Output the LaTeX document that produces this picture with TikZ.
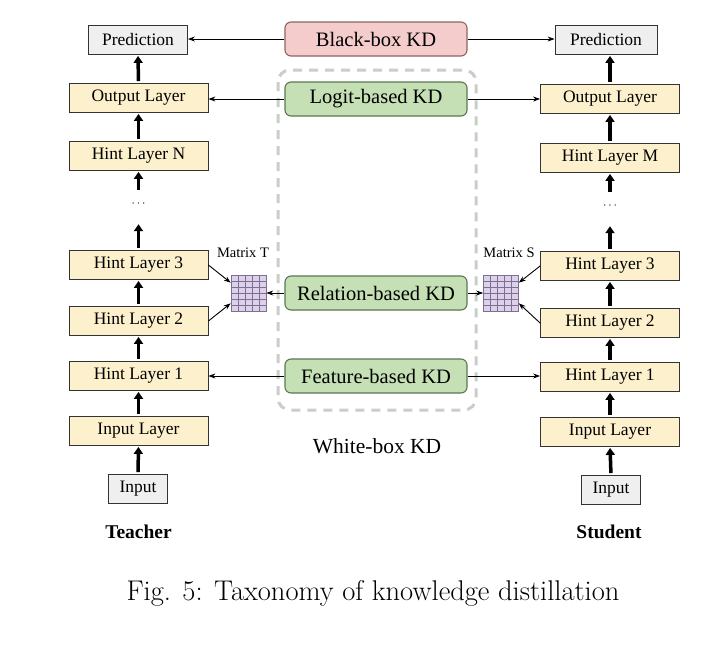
\documentclass[tikz,border=0pt]{standalone}
\usepackage{fontspec}
\setmainfont{Liberation Serif}
\newfontfamily\capfont{Latin Modern Roman}
\usepackage{tikz}
\usetikzlibrary{arrows.meta}
\definecolor{layerfill}{HTML}{FDF0CC}
\definecolor{iofill}{HTML}{EFEFEF}
\definecolor{kdfill}{HTML}{C5E0B4}
\definecolor{kdline}{HTML}{5B7752}
\definecolor{bbfill}{HTML}{F4CCCC}
\definecolor{bbline}{HTML}{8C6464}
\definecolor{wbline}{HTML}{C8CEC8}
\definecolor{matfill}{HTML}{DCD0EA}
\definecolor{matline}{HTML}{7C7090}
\tikzset{
  layer/.style={draw=black!80, fill=layerfill, line width=0.8pt, minimum width=139pt, minimum height=29pt, inner sep=0pt, font=\fontsize{17.5}{20}\selectfont},
  io/.style={layer, fill=iofill, minimum width=99pt},
  kd/.style={draw=kdline, fill=kdfill, line width=1.1pt, rounded corners=6pt, minimum width=182pt, minimum height=34pt, inner sep=0pt, font=\fontsize{20.5}{24}\selectfont},
  bbox/.style={kd, draw=bbline, fill=bbfill},
  dots/.style={inner sep=0pt, text height=14pt, text depth=17pt, anchor=base, font=\fontsize{12}{14}\selectfont},
  matbox/.style={draw=matline, fill=matfill, line width=0.6pt, minimum width=35pt, minimum height=36pt, inner sep=0pt, path picture={
    \foreach \i in {1,...,4} \draw[matline, line width=0.5pt] ([xshift=\i*7pt]path picture bounding box.north west) -- ([xshift=\i*7pt]path picture bounding box.south west);
    \foreach \j in {1,...,5} \draw[matline, line width=0.5pt] ([yshift=-\j*6pt]path picture bounding box.north west) -- ([yshift=-\j*6pt]path picture bounding box.north east);}},
  up/.style={line width=3.5pt, -{Triangle[length=7pt,width=9pt]}, shorten <=2pt, shorten >=1pt},
  link/.style={line width=0.9pt, -{Stealth[length=7pt,width=5pt]}},
}
\begin{document}
\begin{tikzpicture}[x=1pt, y=-1pt]
\useasboundingbox (0,0) rectangle (722,651);
% white-box frame
\draw[wbline, line width=3pt, dash pattern=on 9pt off 7pt, rounded corners=12pt] (278,70) rectangle (476,410);
\node[font=\fontsize{21.5}{25}\selectfont] (wb) at (377,446) {White-box KD};
% teacher
\node[io] (predT) at (138,40) {Prediction};
\foreach \n/\t/\y in {outT/Output Layer/98, hlNT/Hint Layer N/156, hl3T/Hint Layer 3/265, hl2T/Hint Layer 2/321, hl1T/Hint Layer 1/376, inLT/Input Layer/431}
  {\node[layer] (\n) at (138.5,\y) {\t};}
\node[dots] (dotsT) at (138.5,206) {$\cdots$};
\node[io, minimum width=59pt] (inT) at (138,489) {Input};
\node[font=\bfseries\fontsize{19.5}{22}\selectfont] (teacher) at (138.5,532) {Teacher};
% student
\node[io, minimum width=102pt] (predS) at (606,40) {Prediction};
\foreach \n/\t/\y in {outS/Output Layer/99, hlMS/Hint Layer M/158, hl3S/Hint Layer 3/266, hl2S/Hint Layer 2/323, hl1S/Hint Layer 1/377, inLS/Input Layer/432}
  {\node[layer] (\n) at (610,\y) {\t};}
\node[dots] (dotsS) at (610,208) {$\cdots$};
\node[io, minimum width=59pt] (inS) at (611,490) {Input};
\node[font=\bfseries\fontsize{19.5}{22}\selectfont] (student) at (609,532) {Student};
\foreach \a/\b in {inT/inLT, inLT/hl1T, hl1T/hl2T, hl2T/hl3T, hl3T/dotsT, dotsT/hlNT, hlNT/outT, outT/predT, inS/inLS, inLS/hl1S, hl1S/hl2S, hl2S/hl3S, hl3S/dotsS, dotsS/hlMS, hlMS/outS}
  {\draw[up] (\a.north) -- (\b.south);}
\draw[up] (outS.north) -- (outS.north |- predS.south);
% KD types
\node[bbox] (bb) at (376,39) {Black-box KD};
\node[kd] (logit) at (376,99) {Logit-based KD};
\node[kd] (rel) at (376,293) {Relation-based KD};
\node[kd] (feat) at (376,376) {Feature-based KD};
% relation matrices
\node[matbox] (matT) at (248.5,293) {};
\node[matbox] (matS) at (501,293) {};
\node[font=\fontsize{14.5}{17}\selectfont] (matTl) at (243,253) {Matrix T};
\node[font=\fontsize{14.5}{17}\selectfont] (matSl) at (509,253) {Matrix S};
\draw[link] (bb.west) -- (bb.west -| predT.east);
\draw[link] (bb.east) -- (bb.east -| predS.west);
\draw[link] (logit.west) -- (logit.west -| outT.east);
\draw[link] (logit.east) -- (logit.east -| outS.west);
\draw[link] (feat.west) -- (feat.west -| hl1T.east);
\draw[link] (feat.east) -- (feat.east -| hl1S.west);
\draw[link] (rel.west) -- (matT.east);
\draw[link] (rel.east) -- (matS.west);
\draw[link] (hl3T.east) -- (matT.150);
\draw[link] (hl2T.east) -- (matT.210);
\draw[link] (hl3S.west) -- (matS.30);
\draw[link] (hl2S.west) -- (matS.330);
% caption
\node[font=\capfont\fontsize{28.5}{33}\selectfont] (cap) at (373,593) {Fig. 5: Taxonomy of knowledge distillation};
\end{tikzpicture}
\end{document}
